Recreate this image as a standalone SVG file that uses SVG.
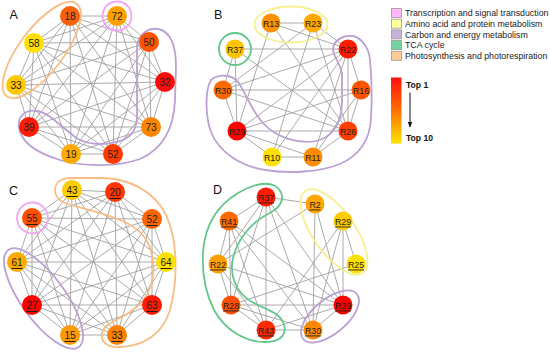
<svg xmlns="http://www.w3.org/2000/svg" width="550" height="352" viewBox="0 0 550 352">
<defs>
<linearGradient id="cbar" x1="0" y1="0" x2="0" y2="1">
<stop offset="0" stop-color="#ff1010"/>
<stop offset="0.5" stop-color="#ff7000"/>
<stop offset="1" stop-color="#ffe400"/>
</linearGradient>
<marker id="ah" viewBox="0 0 10 10" refX="9" refY="5" markerWidth="6" markerHeight="6" orient="auto">
<path d="M0 1L10 5L0 9Z" fill="#111"/>
</marker>
<style>
.e{stroke:#a0a0a0;stroke-width:0.9;fill:none}
.g{fill:none;stroke-width:1.8}
.or{stroke:#f8bd84}
.pk{stroke:#f2a6f2}
.pu{stroke:#bba0d2}
.gr{stroke:#62c68c}
.ye{stroke:#f6f08e}
.n text{font-family:"Liberation Sans",Arial,sans-serif;fill:#1e1e1e;text-anchor:middle;dominant-baseline:central}
.big text{font-size:10px}
.sm text{font-size:8.8px}
.ul text{text-decoration:underline}
.lab{font-family:"Liberation Sans",Arial,sans-serif;font-size:12.5px;fill:#111}
.leg{font-family:"Liberation Sans",Arial,sans-serif;font-size:8.8px;fill:#222}
.lb{stroke:#999;stroke-width:0.8}
.tb{font-family:"Liberation Sans",Arial,sans-serif;font-size:8.6px;font-weight:bold;fill:#111}
</style>
</defs>
<rect width="550" height="352" fill="#fff"/>

<g id="connectors">
<path class="e" d="M70 16L117 16M70 16L34 43M70 16L149 42M70 16L16 85M70 16L165 82M70 16L29 127M70 16L151 127M70 16L71 154M70 16L113 154M117 16L34 43M117 16L149 42M117 16L16 85M117 16L165 82M117 16L29 127M117 16L151 127M117 16L71 154M117 16L113 154M34 43L149 42M34 43L16 85M34 43L165 82M34 43L29 127M34 43L151 127M34 43L71 154M34 43L113 154M149 42L16 85M149 42L165 82M149 42L29 127M149 42L151 127M149 42L71 154M149 42L113 154M16 85L165 82M16 85L29 127M16 85L151 127M16 85L71 154M16 85L113 154M165 82L29 127M165 82L151 127M165 82L71 154M165 82L113 154M29 127L151 127M29 127L71 154M29 127L113 154M151 127L71 154M151 127L113 154M71 154L113 154"/>
<path class="e" d="M72 190L115 192M72 190L32 218M72 190L152 219M72 190L17 262M72 190L166 262M72 190L32 305M72 190L152 305M72 190L70 335M72 190L117 335M115 192L32 218M115 192L152 219M115 192L17 262M115 192L166 262M115 192L32 305M115 192L152 305M115 192L70 335M115 192L117 335M32 218L152 219M32 218L17 262M32 218L166 262M32 218L32 305M32 218L152 305M32 218L70 335M32 218L117 335M152 219L17 262M152 219L166 262M152 219L32 305M152 219L152 305M152 219L70 335M152 219L117 335M17 262L166 262M17 262L32 305M17 262L152 305M17 262L70 335M17 262L117 335M166 262L32 305M166 262L152 305M166 262L70 335M166 262L117 335M32 305L152 305M32 305L70 335M32 305L117 335M152 305L70 335M152 305L117 335M70 335L117 335"/>
<path class="e" d="M271 23L313 23M271 23L237 131M271 23L348 131M271 23L348 49M313 23L348 49M313 23L272 157M313 23L348 131M313 23L223 90M235 49L348 49M235 49L237 131M235 49L223 90M235 49L348 131M223 90L361 90M223 90L348 49M223 90L237 131M223 90L348 131M237 131L348 49M237 131L361 90M237 131L348 131M237 131L272 157M237 131L313 157M272 157L313 157M272 157L348 49M313 157L348 49M313 157L361 90M313 157L348 131M348 49L361 90M348 49L348 131M361 90L348 131"/>
<path class="e" d="M266 197L315 204M266 197L229 221M266 197L218 264M266 197L231 305M266 197L266 330M266 197L313 330M266 197L343 305M229 221L218 264M229 221L231 305M229 221L266 330M229 221L343 305M229 221L313 330M218 264L231 305M218 264L266 330M218 264L315 204M218 264L343 305M231 305L266 330M231 305L343 305M231 305L356 264M231 305L313 330M266 330L313 330M266 330L343 221M266 330L343 305M315 204L313 330M315 204L343 305M343 221L313 330M343 221L343 305M343 221L356 264M343 305L313 330"/>
</g>

<g id="groups">
<ellipse class="g or" cx="41.7" cy="50" rx="58" ry="22" transform="rotate(-53 41.7 50)"/>
<circle class="g pk" cx="117" cy="16" r="14.5"/>
<path class="g pu" d="M137 50C136 38 146 27 158 29C170 31 176 45 176 66L175 100C174 125 165 148 140 159C115 168 80 166 60 160C40 154 22 145 19 128C17 115 27 109 37 111C50 113 62 128 78 139C95 148 125 144 133 132C138 124 137 115 137 105Z"/>
<ellipse class="g ye" cx="291" cy="24.5" rx="36.5" ry="18"/>
<circle class="g gr" cx="235" cy="49" r="16"/>
<path class="g pu" d="M211 80C218 74 232 74 238 82C246 93 250 108 262 122C275 137 300 146 320 140C336 134 342 118 342 100L342 75C342 66 334 58 333 50C333 40 343 35 353 36C362 38 369 48 370 60C372 80 372 100 371 118C370 140 360 155 340 164C320 172 290 174 265 170C240 166 219 152 211 132C205 115 205 90 211 80Z"/>
<path class="g or" d="M55 190C55 182 62 178 72 178L100 178C130 178 155 192 166 215C178 240 178 280 170 310C163 333 145 346 120 347C108 348 100 342 102 333C104 324 118 320 130 312C148 300 155 282 153 262C151 240 140 228 120 220C100 212 80 208 65 203C58 200 55 196 55 190Z"/>
<circle class="g pk" cx="32.5" cy="218" r="15.5"/>
<ellipse class="g pu" cx="43.5" cy="298.5" rx="60" ry="22" transform="rotate(54 43.5 298.5)"/>
<path class="g gr" d="M261.7 184C270 183 280 185 282 196C283 204 276 210 268 214C252 222 238 238 233 258C229 275 236 293 252 302C265 309 278 312 283 322C288 333 282 342 265 342C245 342 225 330 214 310C205 292 202 270 203 252C205 225 218 205 238 193C246 188 254 185 261.7 184Z"/>
<ellipse class="g ye" cx="334" cy="232" rx="50" ry="21" transform="rotate(55 334 232)"/>
<ellipse class="g pu" cx="330" cy="316.5" rx="35" ry="17" transform="rotate(-40 330 316.5)"/>
</g>

<g class="n big">
<g id="a18"><circle cx="70" cy="16" r="10" fill="#f76208"/><text x="70" y="16.5">18</text></g>
<g id="a72"><circle cx="117" cy="16" r="10" fill="#ffa000"/><text x="117" y="16.5">72</text></g>
<g id="a58"><circle cx="34" cy="43" r="10" fill="#ffe000"/><text x="34" y="43.5">58</text></g>
<g id="a50"><circle cx="149" cy="42" r="10" fill="#ff5200"/><text x="149" y="42.5">50</text></g>
<g id="a33"><circle cx="16" cy="85" r="10" fill="#ffc800"/><text x="16" y="85.5">33</text></g>
<g id="a32"><circle cx="165" cy="82" r="10" fill="#ff0a0a"/><text x="165" y="82.5">32</text></g>
<g id="a39"><circle cx="29" cy="127" r="10" fill="#ff1a0a"/><text x="29" y="127.5">39</text></g>
<g id="a73"><circle cx="151" cy="127" r="10" fill="#ff8400"/><text x="151" y="127.5">73</text></g>
<g id="a19"><circle cx="71" cy="154" r="10" fill="#ffaa00"/><text x="71" y="154.5">19</text></g>
<g id="a52"><circle cx="113" cy="154" r="10" fill="#ff3a00"/><text x="113" y="154.5">52</text></g>
</g>

<g class="n sm">
<g id="bR13"><circle cx="271" cy="23" r="9.5" fill="#ff9000"/><text x="271" y="23.5">R13</text></g>
<g id="bR23"><circle cx="313" cy="23" r="9.5" fill="#ffa800"/><text x="313" y="23.5">R23</text></g>
<g id="bR37"><circle cx="235" cy="49" r="9.5" fill="#ffc400"/><text x="235" y="49.5">R37</text></g>
<g id="bR22"><circle cx="348" cy="49" r="9.5" fill="#ff1a00"/><text x="348" y="49.5">R22</text></g>
<g id="bR30"><circle cx="223" cy="90" r="9.5" fill="#ff6a00"/><text x="223" y="90.5">R30</text></g>
<g id="bR16"><circle cx="361" cy="90" r="9.5" fill="#ff5500"/><text x="361" y="90.5">R16</text></g>
<g id="bR29"><circle cx="237" cy="131" r="9.5" fill="#ff0000"/><text x="237" y="131.5">R29</text></g>
<g id="bR26"><circle cx="348" cy="131" r="9.5" fill="#ff4000"/><text x="348" y="131.5">R26</text></g>
<g id="bR10"><circle cx="272" cy="157" r="9.5" fill="#ffe000"/><text x="272" y="157.5">R10</text></g>
<g id="bR11"><circle cx="313" cy="157" r="9.5" fill="#ff8c00"/><text x="313" y="157.5">R11</text></g>
</g>

<g class="n big ul">
<g id="c43"><circle cx="72" cy="190" r="10" fill="#ffcc00"/><text x="72" y="190.5">43</text></g>
<g id="c20"><circle cx="115" cy="192" r="10" fill="#ff3300"/><text x="115" y="192.5">20</text></g>
<g id="c55"><circle cx="32" cy="218" r="10" fill="#ff5000"/><text x="32" y="218.5">55</text></g>
<g id="c52"><circle cx="152" cy="219" r="10" fill="#ff6600"/><text x="152" y="219.5">52</text></g>
<g id="c61"><circle cx="17" cy="262" r="10" fill="#ffaa00"/><text x="17" y="262.5">61</text></g>
<g id="c64"><circle cx="166" cy="262" r="10" fill="#ffe000"/><text x="166" y="262.5">64</text></g>
<g id="c27"><circle cx="32" cy="305" r="10" fill="#ff0000"/><text x="32" y="305.5">27</text></g>
<g id="c63"><circle cx="152" cy="305" r="10" fill="#ff1a00"/><text x="152" y="305.5">63</text></g>
<g id="c15"><circle cx="70" cy="335" r="10" fill="#ff9900"/><text x="70" y="335.5">15</text></g>
<g id="c33"><circle cx="117" cy="335" r="10" fill="#ff8000"/><text x="117" y="335.5">33</text></g>
</g>

<g class="n sm ul">
<g id="dR37"><circle cx="266" cy="197" r="9.5" fill="#ff1a00"/><text x="266" y="197.5">R37</text></g>
<g id="dR2"><circle cx="315" cy="204" r="9.5" fill="#ffa500"/><text x="315" y="204.5">R2</text></g>
<g id="dR41"><circle cx="229" cy="221" r="9.5" fill="#ff6a00"/><text x="229" y="221.5">R41</text></g>
<g id="dR29"><circle cx="343" cy="221" r="9.5" fill="#ffcc00"/><text x="343" y="221.5">R29</text></g>
<g id="dR22"><circle cx="218" cy="264" r="9.5" fill="#ffa000"/><text x="218" y="264.5">R22</text></g>
<g id="dR25"><circle cx="356" cy="264" r="9.5" fill="#ffe000"/><text x="356" y="264.5">R25</text></g>
<g id="dR28"><circle cx="231" cy="305" r="9.5" fill="#ff5000"/><text x="231" y="305.5">R28</text></g>
<g id="dR39"><circle cx="343" cy="305" r="9.5" fill="#ff0000"/><text x="343" y="305.5">R39</text></g>
<g id="dR43"><circle cx="266" cy="330" r="9.5" fill="#ff2a00"/><text x="266" y="330.5">R43</text></g>
<g id="dR30"><circle cx="313" cy="330" r="9.5" fill="#ff8800"/><text x="313" y="330.5">R30</text></g>
</g>

<g id="panel-labels">
<text class="lab" x="9.5" y="18.5">A</text>
<text class="lab" x="214" y="18.5">B</text>
<text class="lab" x="9" y="194.7">C</text>
<text class="lab" x="213" y="194.2">D</text>
</g>

<g id="legend">
<rect class="lb" x="391.5" y="8.5" width="10" height="9" fill="#ffb8f8"/>
<rect class="lb" x="391.5" y="19.2" width="10" height="9" fill="#ffffa0"/>
<rect class="lb" x="391.5" y="29.9" width="10" height="9" fill="#c8b2da"/>
<rect class="lb" x="391.5" y="40.6" width="10" height="9" fill="#74d29c"/>
<rect class="lb" x="391.5" y="51.3" width="10" height="9" fill="#ffcc98"/>
<text class="leg" x="405" y="16.3">Transcription and signal transduction</text>
<text class="leg" x="405" y="27">Amino acid and protein metabolism</text>
<text class="leg" x="405" y="37.7">Carbon and energy metabolism</text>
<text class="leg" x="405" y="48.4">TCA cycle</text>
<text class="leg" x="405" y="59.1">Photosynthesis and photorespiration</text>
<rect x="391" y="77.5" width="10.5" height="66" fill="url(#cbar)"/>
<text class="tb" x="406" y="87.5">Top 1</text>
<line x1="410" y1="92.5" x2="410" y2="127" stroke="#111" stroke-width="1" marker-end="url(#ah)"/>
<text class="tb" x="406" y="141">Top 10</text>
</g>
</svg>
